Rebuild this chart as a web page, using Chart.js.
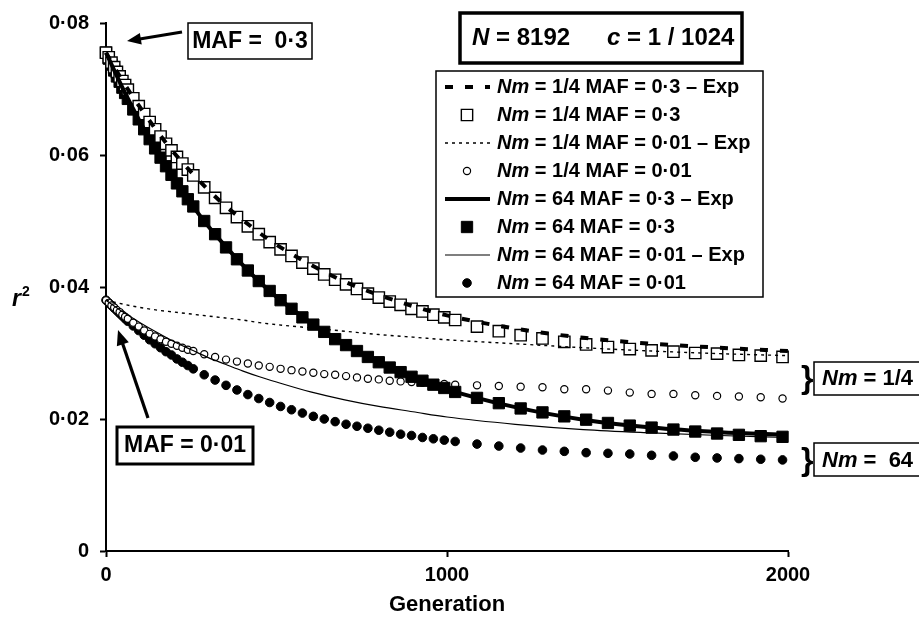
<!DOCTYPE html>
<html><head><meta charset="utf-8">
<script src="https://cdn.jsdelivr.net/npm/chart.js@4.4.1/dist/chart.umd.min.js"></script>
<style>html,body{margin:0;padding:0;background:#fff;}canvas{display:block;}</style>
</head><body>
<canvas id="c" width="919" height="620"></canvas>
<script>
// ---- data ----
const generations = [0,8,16,24,32,40,48,56,64,80,96,112,128,144,160,176,192,208,224,240,256,
  288,320,352,384,416,448,480,512,544,576,608,640,672,704,736,768,800,832,864,896,928,960,992,1024,
  1088,1152,1216,1280,1344,1408,1472,1536,1600,1664,1728,1792,1856,1920,1984];

const nm14Maf03 = [0.0755,0.0748,0.0740,0.0733,0.0726,0.0719,0.0712,0.0706,0.0699,
  0.0686,0.0674,0.0662,0.0650,0.0639,0.0628,0.0617,0.0607,0.0597,0.0587,0.0578,0.0569,
  0.0551,0.0535,0.0520,0.0506,0.0492,0.0480,0.0468,0.0457,0.0447,0.0437,0.0428,0.0419,0.0411,0.0404,0.0397,0.0390,0.0384,0.0378,0.0373,0.0367,0.0363,0.0358,0.0354,0.0350,
  0.0340,0.0333,0.0327,0.0322,0.0317,0.0313,0.0309,0.0306,0.0304,0.0302,0.0300,0.0299,0.0297,0.0296,0.0294];

const nm64Maf03 = [0.0755,0.0746,0.0737,0.0728,0.0719,0.0711,0.0702,0.0694,0.0685,
  0.0669,0.0654,0.0639,0.0624,0.0610,0.0596,0.0583,0.0570,0.0557,0.0545,0.0533,0.0522,
  0.0500,0.0480,0.0460,0.0442,0.0425,0.0409,0.0394,0.0380,0.0367,0.0354,0.0343,0.0332,0.0321,0.0312,0.0303,0.0294,0.0286,0.0278,0.0271,0.0264,0.0258,0.0252,0.0247,0.0241,
  0.0232,0.0224,0.0216,0.0210,0.0204,0.0199,0.0194,0.0190,0.0187,0.0184,0.0181,0.0178,0.0176,0.0174,0.0173];

const nm14Maf001 = [0.0380,0.0376,0.0372,0.0369,0.0365,0.0362,0.0358,0.0355,0.0352,
  0.0346,0.0340,0.0334,0.0329,0.0325,0.0321,0.0317,0.0314,0.0311,0.0308,0.0305,0.0303,
  0.0298,0.0294,0.0290,0.0287,0.0284,0.0281,0.0279,0.0276,0.0274,0.0272,0.0270,0.0268,0.0267,0.0265,0.0263,0.0261,0.0260,0.0258,0.0257,0.0256,0.0255,0.0254,0.0253,0.0252,
  0.0251,0.0250,0.0249,0.0248,0.0245,0.0245,0.0243,0.0240,0.0238,0.0238,0.0236,0.0235,0.0234,0.0233,0.0231];

const nm64Maf001 = [0.0380,0.0376,0.0372,0.0368,0.0364,0.0360,0.0356,0.0352,0.0348,
  0.0341,0.0334,0.0327,0.0320,0.0314,0.0308,0.0302,0.0297,0.0291,0.0286,0.0281,0.0276,
  0.0267,0.0259,0.0251,0.0244,0.0237,0.0231,0.0225,0.0219,0.0214,0.0209,0.0204,0.0200,0.0196,0.0192,0.0189,0.0186,0.0183,0.0180,0.0177,0.0175,0.0172,0.0170,0.0168,0.0166,
  0.0162,0.0159,0.0156,0.0153,0.0151,0.0149,0.0148,0.0147,0.0145,0.0144,0.0142,0.0141,0.0140,0.0139,0.0138];

const expGenerations = [0,50,100,150,200,250,300,350,400,450,500,600,700,800,900,1000,1200,1400,1600,1800,2000];
const expNm14Maf03  = [0.0755,0.0711,0.0672,0.0636,0.0603,0.0574,0.0547,0.0523,0.0502,0.0482,0.0464,0.0434,0.0408,0.0388,0.0371,0.0357,0.0337,0.0323,0.0314,0.0308,0.0303];
const expNm14Maf001 = [0.0380,0.0374,0.0369,0.0365,0.0362,0.0359,0.0356,0.0353,0.0350,0.0346,0.0343,0.0338,0.0333,0.0328,0.0324,0.0320,0.0314,0.0308,0.0303,0.0299,0.0296];
const expNm64Maf03  = [0.0755,0.0700,0.0650,0.0605,0.0564,0.0526,0.0492,0.0462,0.0434,0.0408,0.0385,0.0346,0.0313,0.0286,0.0264,0.0245,0.0218,0.0199,0.0187,0.0180,0.0176];
const expNm64Maf001 = [0.0380,0.0362,0.0346,0.0331,0.0317,0.0305,0.0293,0.0283,0.0273,0.0264,0.0256,0.0241,0.0229,0.0219,0.0211,0.0203,0.0192,0.0184,0.0179,0.0175,0.0172];

const seriesLabels = [
  'Nm = 1/4 MAF = 0·3 – Exp',
  'Nm = 1/4 MAF = 0·3',
  'Nm = 1/4 MAF = 0·01 – Exp',
  'Nm = 1/4 MAF = 0·01',
  'Nm = 64 MAF = 0·3 – Exp',
  'Nm = 64 MAF = 0·3',
  'Nm = 64 MAF = 0·01 – Exp',
  'Nm = 64 MAF = 0·01'
];
const yTickLabels = ['0','0·02','0·04','0·06','0·08'];
const xTickLabels = ['0','1000','2000'];
const xTitle = 'Generation';
const headerLeft = ['N', ' = 8192'];
const headerRight = ['c', ' = 1 / 1024'];
const noteTop = 'MAF =  0·3';
const noteBottom = 'MAF = 0·01';
const groupLabels = [['Nm', ' = 1/4'], ['Nm', ' =  64']];

// ---- build ----
const FONT = '"Liberation Sans", Arial, Helvetica, sans-serif';
const pts = (xs, ys) => xs.map((x, i) => ({x: x, y: ys[i]}));

function lineDs(label, xs, ys, width, dash, order) {
  return {label, data: pts(xs, ys), showLine: true, pointRadius: 0, pointHoverRadius: 0,
    borderColor: '#000', backgroundColor: '#000', borderWidth: width, borderDash: dash,
    fill: false, cubicInterpolationMode: 'monotone', order, clip: false};
}
function markDs(label, xs, ys, style, radius, bg, bw, order) {
  return {label, data: pts(xs, ys), showLine: false, pointStyle: style, pointRadius: radius,
    pointHoverRadius: radius, pointBackgroundColor: bg, pointBorderColor: '#000',
    pointBorderWidth: bw, borderColor: '#000', backgroundColor: bg, order, clip: false};
}

const datasets = [
  lineDs(seriesLabels[0], expGenerations, expNm14Maf03, 4, [8, 12], 0),
  markDs(seriesLabels[1], generations, nm14Maf03, 'rect', 8, '#fff', 1.4, 4),
  lineDs(seriesLabels[2], expGenerations, expNm14Maf001, 1.4, [3, 4], 1),
  markDs(seriesLabels[3], generations, nm14Maf001, 'circle', 3.6, '#fff', 1.2, 6),
  lineDs(seriesLabels[4], expGenerations, expNm64Maf03, 4, [], 2),
  markDs(seriesLabels[5], generations, nm64Maf03, 'rect', 8, '#000', 1, 5),
  lineDs(seriesLabels[6], expGenerations, expNm64Maf001, 1.2, [], 3),
  markDs(seriesLabels[7], generations, nm64Maf001, 'circle', 4.3, '#000', 1, 7)
];

function richText(ctx, parts, x, y, size) {
  let cx = x;
  parts.forEach(([t, italic]) => {
    ctx.font = (italic ? 'italic ' : '') + 'bold ' + size + 'px ' + FONT;
    ctx.fillText(t, cx, y);
    cx += ctx.measureText(t).width;
  });
  return cx;
}
function arrow(ctx, x1, y1, x2, y2, w, head) {
  const a = Math.atan2(y2 - y1, x2 - x1);
  const c = Math.cos(a), s = Math.sin(a);
  ctx.lineWidth = w;
  ctx.beginPath(); ctx.moveTo(x1, y1); ctx.lineTo(x2 - head * 0.7 * c, y2 - head * 0.7 * s); ctx.stroke();
  ctx.beginPath(); ctx.moveTo(x2, y2);
  ctx.lineTo(x2 - head * c + head * 0.42 * s, y2 - head * s - head * 0.42 * c);
  ctx.lineTo(x2 - head * c - head * 0.42 * s, y2 - head * s + head * 0.42 * c);
  ctx.closePath(); ctx.fill();
}

const overlay = {
  id: 'overlay',
  afterDraw(chart) {
    const ctx = chart.ctx;
    ctx.save();
    ctx.fillStyle = '#000'; ctx.strokeStyle = '#000';
    ctx.textBaseline = 'middle'; ctx.textAlign = 'left';

    // header box
    ctx.lineWidth = 3.5;
    ctx.strokeRect(460, 13, 282, 50);
    richText(ctx, [[headerLeft[0], true], [headerLeft[1], false]], 472, 38, 24);
    richText(ctx, [[headerRight[0], true], [headerRight[1], false]], 607, 38, 24);

    // legend box
    ctx.fillStyle = '#fff';
    ctx.fillRect(436, 71, 327, 226);
    ctx.fillStyle = '#000';
    ctx.lineWidth = 1.5;
    ctx.strokeRect(436, 71, 327, 226);
    chart.data.datasets.forEach((ds, i) => {
      const y = 87 + i * 28;
      if (ds.showLine) {
        ctx.save();
        ctx.lineWidth = ds.borderWidth;
        ctx.setLineDash(ds.borderDash || []);
        ctx.beginPath(); ctx.moveTo(445, y); ctx.lineTo(490, y); ctx.stroke();
        ctx.restore();
      } else {
        ctx.save();
        ctx.fillStyle = ds.pointBackgroundColor; ctx.strokeStyle = '#000';
        ctx.lineWidth = ds.pointBorderWidth;
        Chart.helpers.drawPoint(ctx, {pointStyle: ds.pointStyle, radius: ds.pointRadius, rotation: 0, borderWidth: ds.pointBorderWidth}, 467, y);
        ctx.restore();
      }
      ctx.fillStyle = '#000';
      const lab = ds.label;
      richText(ctx, [[lab.slice(0, 2), true], [lab.slice(2), false]], 497, y, 20);
    });

    // MAF = 0.3 note
    ctx.lineWidth = 1.5;
    ctx.strokeRect(188, 23, 124, 36);
    ctx.font = 'bold 23px ' + FONT; ctx.textAlign = 'center';
    ctx.fillText(noteTop, 250, 42);
    arrow(ctx, 182, 32, 127, 41, 3, 14);

    // MAF = 0.01 note
    ctx.strokeRect(117, 427, 136, 37);
    ctx.fillText(noteBottom, 185, 446);
    arrow(ctx, 148, 418, 118, 330, 3.2, 15);

    // group labels at right
    ctx.textAlign = 'left';
    [[378, 362], [460, 443]].forEach(([cy, top], k) => {
      ctx.font = 'bold 32px ' + FONT;
      ctx.fillText('}', 801, cy + 1);
      ctx.lineWidth = 1.5;
      ctx.strokeRect(814, top, 120, 33);
      richText(ctx, [[groupLabels[k][0], true], [groupLabels[k][1], false]], 822, cy + 1, 22);
    });

    // y title r²
    ctx.font = 'italic bold 23px ' + FONT;
    ctx.fillText('r', 12, 300);
    ctx.font = 'bold 14px ' + FONT;
    ctx.fillText('2', 22, 292);
    ctx.restore();
  }
};

new Chart(document.getElementById('c'), {
  type: 'scatter',
  data: {datasets},
  options: {
    responsive: false, animation: false, devicePixelRatio: 1,
    layout: {padding: {top: 18, right: 131, bottom: 0, left: 0}},
    plugins: {legend: {display: false}, tooltip: {enabled: false}},
    scales: {
      x: {
        type: 'linear', min: 0, max: 2000,
        afterFit: s => { s.height = 69; },
        ticks: {stepSize: 1000, padding: 6, color: '#000', maxRotation: 0,
          font: {family: FONT, size: 20, weight: 'bold'},
          callback: (v, i) => xTickLabels[i]},
        grid: {drawOnChartArea: false, drawTicks: true, tickLength: 6, tickWidth: 2, tickColor: '#000'},
        border: {display: true, color: '#000', width: 2},
        title: {display: true, text: xTitle, color: '#000', padding: {top: 0, bottom: 2},
          font: {family: FONT, size: 22, weight: 'bold'}}
      },
      y: {
        type: 'linear', min: 0, max: 0.08,
        afterFit: s => { s.width = 106; },
        ticks: {stepSize: 0.02, padding: 11, color: '#000',
          font: {family: FONT, size: 20, weight: 'bold'},
          callback: (v, i) => yTickLabels[i]},
        grid: {drawOnChartArea: false, drawTicks: true, tickLength: 6, tickWidth: 2, tickColor: '#000'},
        border: {display: true, color: '#000', width: 2}
      }
    }
  },
  plugins: [overlay]
});
</script>
</body></html>
